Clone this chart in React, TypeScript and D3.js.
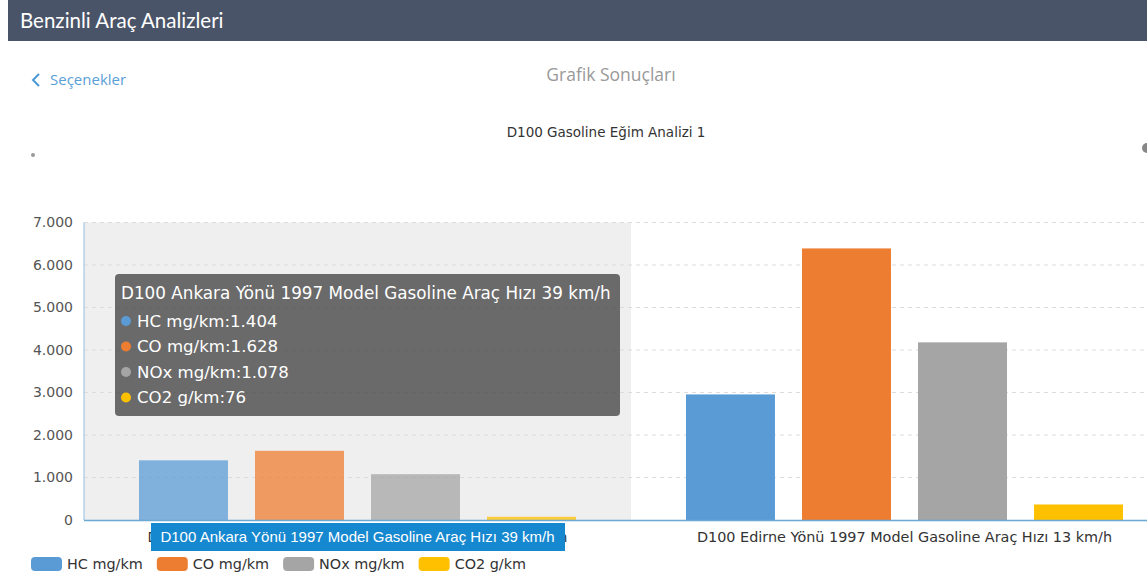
import React from "react";
import * as d3 from "d3";

const categories = [
  "D100 Ankara Yönü 1997 Model Gasoline Araç Hızı 39 km/h",
  "D100 Edirne Yönü 1997 Model Gasoline Araç Hızı 13 km/h",
];
const seriesNames = ["HC mg/km", "CO mg/km", "NOx mg/km", "CO2 g/km"];
const seriesColors = ["#5b9bd5", "#ed7d31", "#a5a5a5", "#ffc000"];
const hcValues = [1404, 2955];
const coValues = [1628, 6390];
const noxValues = [1078, 4180];
const co2Values = [76, 365];
const yTicks = [0, 1000, 2000, 3000, 4000, 5000, 6000, 7000];
const seriesValues = [hcValues, coValues, noxValues, co2Values];
const hoveredIndex = 0;

const locale = d3.formatLocale({ decimal: ",", thousands: ".", grouping: [3], currency: ["", ""] });
const fmt = locale.format(",d");

const CHART_FONT = "'DejaVu Sans', Verdana, sans-serif";
const PAGE_FONT = "'Open Sans', 'Noto Sans', sans-serif";

function textWidth(t: string, font: string) {
  const c = document.createElement("canvas").getContext("2d");
  if (!c) return t.length * 7;
  c.font = font;
  return c.measureText(t).width;
}

export default function App() {
  const W = 1147;
  const H = 579;
  const left = 84;
  const band = 547;
  const y0 = 520;
  const yTop = 222.5;

  const x = d3.scaleBand<string>().domain(categories).range([left, left + band * categories.length]).padding(0);
  const xi = d3
    .scaleBand<string>()
    .domain(seriesNames)
    .range([0, band])
    .paddingInner(0.233)
    .paddingOuter(0.474);
  const y = d3.scaleLinear().domain([0, 7000]).range([y0, yTop]);

  // legend layout
  const legendSize = 14.4;
  const legendFont = `${legendSize}px 'DejaVu Sans'`;
  let lx = 31;
  const legendItems = seriesNames.map((n, i) => {
    const item = { n, i, x: lx };
    lx += 31 + 5 + textWidth(n, legendFont) + 14;
    return item;
  });

  const hovered = categories[hoveredIndex];
  const hx = x(hovered) as number;

  return (
    <svg
      width={W}
      height={H}
      style={{ position: "absolute", left: 0, top: 0, background: "#fff" }}
      fontFamily={CHART_FONT}
    >
      {/* header */}
      <rect x={8} y={0} width={W - 8} height={41} fill="#4a5468" />
      <text x={20} y={28} fill="#fff" fontSize={20.5} fontFamily="Lato, sans-serif">
        Benzinli Araç Analizleri
      </text>

      {/* back link */}
      <path d="M39,74 L33,80 L39,86" fill="none" stroke="#4a9ad8" strokeWidth={2} />
      <text x={50} y={85} fill="#5aa0d8" fontSize={15} fontFamily={PAGE_FONT}>
        Seçenekler
      </text>
      <text x={611} y={81} fill="#999" fontSize={17.5} textAnchor="middle" fontFamily={PAGE_FONT}>
        Grafik Sonuçları
      </text>
      <text x={606} y={137} fill="#333" fontSize={13.5} textAnchor="middle">
        D100 Gasoline Eğim Analizi 1
      </text>
      <circle cx={33} cy={155} r={2} fill="#999" />
      <circle cx={1147} cy={148} r={5} fill="#888" />

      {/* hover shadow */}
      <rect x={hx} y={yTop} width={x.bandwidth()} height={y0 - yTop} fill="#efefef" />

      {/* grid */}
      {yTicks.map((t) => (
        <line
          key={t}
          x1={left}
          x2={W}
          y1={y(t)}
          y2={y(t)}
          stroke="#dcdcdc"
          strokeDasharray="4,4"
          opacity={t === 0 ? 0 : 1}
        />
      ))}

      {/* y labels */}
      {yTicks.map((t) => (
        <text key={t} x={73} y={y(t)} dy="0.35em" textAnchor="end" fill="#555" fontSize={14}>
          {fmt(t)}
        </text>
      ))}

      {/* bars */}
      {categories.map((c, ci) =>
        seriesNames.map((s, si) => {
          const v = seriesValues[si][ci];
          return (
            <rect
              key={c + s}
              x={(x(c) as number) + (xi(s) as number)}
              y={y(v)}
              width={xi.bandwidth()}
              height={y0 - y(v)}
              fill={seriesColors[si]}
              opacity={ci === hoveredIndex ? 0.75 : 1}
            />
          );
        })
      )}

      {/* axes */}
      <line x1={left} x2={left} y1={yTop} y2={y0} stroke="#8fbfe0" strokeWidth={1} />
      <line x1={left} x2={W} y1={y0 + 0.5} y2={y0 + 0.5} stroke="#6aa9d3" strokeWidth={1.5} />

      {/* x labels */}
      {categories.map((c) => (
        <text
          key={c}
          x={(x(c) as number) + x.bandwidth() / 2}
          y={542}
          textAnchor="middle"
          fill="#333"
          fontSize={14.4}
        >
          {c}
        </text>
      ))}

      {/* axis pointer label */}
      <rect x={151} y={523} width={414} height={28} fill="#1688cf" />
      <text
        x={hx + x.bandwidth() / 2}
        y={542}
        textAnchor="middle"
        fill="#fff"
        fontSize={15}
        fontFamily="'Liberation Sans', Arial, sans-serif"
      >
        {hovered}
      </text>

      {/* legend */}
      {legendItems.map((it) => (
        <g key={it.n}>
          <rect x={it.x} y={557} width={31} height={14} rx={4} fill={seriesColors[it.i]} />
          <text x={it.x + 36} y={564} dy="0.35em" fill="#333" fontSize={legendSize}>
            {it.n}
          </text>
        </g>
      ))}

      {/* tooltip */}
      <g>
        <rect x={115} y={274} width={505} height={142} rx={4} fill="rgba(50,50,50,0.7)" />
        <text x={121} y={293} dy="0.35em" fill="#fff" fontSize={16.8}>
          {hovered}
        </text>
        {seriesNames.map((s, si) => (
          <g key={s}>
            <circle cx={126} cy={321 + si * 25.5} r={5} fill={seriesColors[si]} />
            <text x={137} y={321 + si * 25.5} dy="0.35em" fill="#fff" fontSize={16.6}>
              {s}:{fmt(seriesValues[si][hoveredIndex])}
            </text>
          </g>
        ))}
      </g>
    </svg>
  );
}
